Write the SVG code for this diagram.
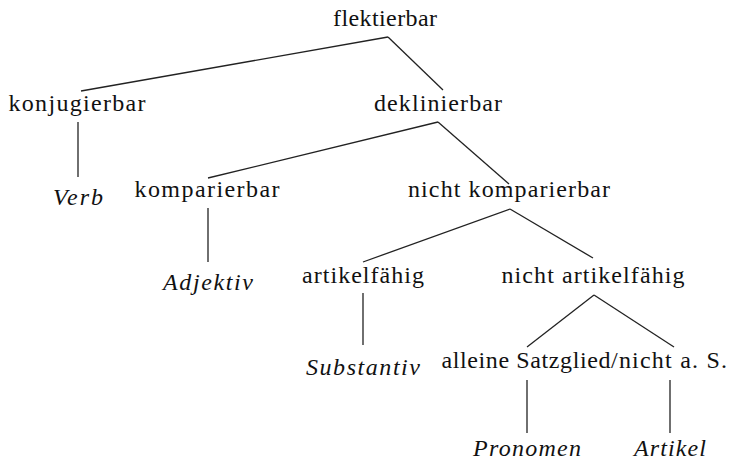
<svg xmlns="http://www.w3.org/2000/svg" width="732" height="463" viewBox="0 0 732 463">
<style>
text{font-family:"Liberation Serif","DejaVu Serif",serif;font-size:24px;fill:#111;text-anchor:middle}
.it{font-style:italic}
#edges line{stroke:#222;stroke-width:1.3}
</style>
<rect width="732" height="463" fill="#fff"/>
<g id="edges">
<line x1="388" y1="37" x2="81" y2="91"/>
<line x1="388" y1="37" x2="443" y2="90"/>
<line x1="78" y1="122" x2="78" y2="177"/>
<line x1="438" y1="122" x2="208" y2="178"/>
<line x1="438" y1="122" x2="509" y2="184"/>
<line x1="208" y1="208" x2="208" y2="262"/>
<line x1="510" y1="209" x2="363" y2="262"/>
<line x1="510" y1="209" x2="593" y2="258"/>
<line x1="363" y1="293" x2="363" y2="345"/>
<line x1="594" y1="295" x2="527" y2="347"/>
<line x1="594" y1="295" x2="674" y2="347"/>
<line x1="527" y1="380" x2="527" y2="433"/>
<line x1="670" y1="380" x2="670" y2="433"/>
</g>
<g id="flektierbar"><text x="385" y="26" textLength="104">flektierbar</text></g>
<g id="konjugierbar"><text x="77" y="111" textLength="137">konjugierbar</text></g>
<g id="deklinierbar"><text x="438" y="111" textLength="128">deklinierbar</text></g>
<g id="verb"><text class="it" x="78" y="205" textLength="50">Verb</text></g>
<g id="komparierbar"><text x="207" y="197" textLength="145">komparierbar</text></g>
<g id="nicht-komparierbar"><text x="509" y="197" textLength="202">nicht komparierbar</text></g>
<g id="adjektiv"><text class="it" x="208" y="290" textLength="90">Adjektiv</text></g>
<g id="artikelfaehig"><text x="363" y="283" textLength="122">artikelfähig</text></g>
<g id="nicht-artikelfaehig"><text x="593" y="283" textLength="183">nicht artikelfähig</text></g>
<g id="substantiv"><text class="it" x="363" y="375" textLength="114">Substantiv</text></g>
<g id="alleine-satzglied"><text x="526" y="368" textLength="169">alleine Satzglied</text></g>
<g id="nicht-as"><text x="669" y="368" textLength="116">/nicht a. S.</text></g>
<g id="pronomen"><text class="it" x="527" y="456" textLength="108">Pronomen</text></g>
<g id="artikel"><text class="it" x="670" y="456" textLength="72">Artikel</text></g>
</svg>
